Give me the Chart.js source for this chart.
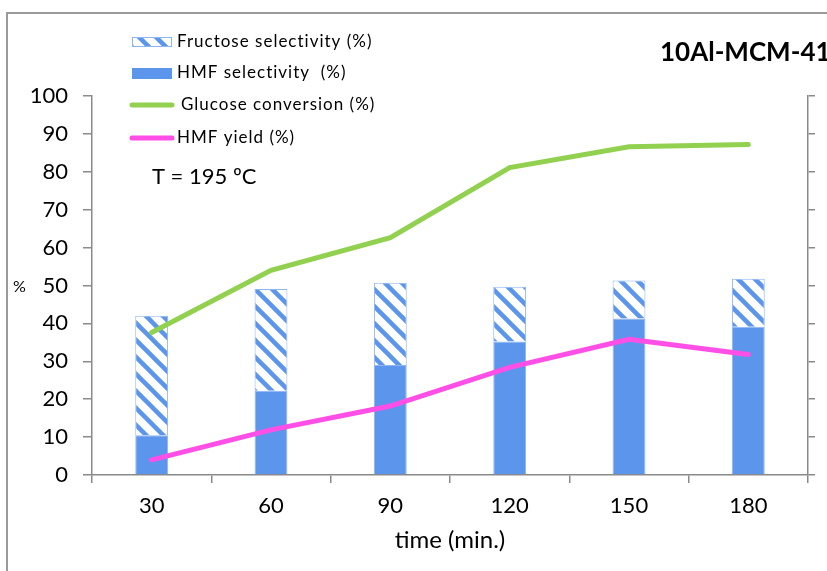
<!DOCTYPE html>
<html>
<head>
<meta charset="utf-8">
<script src="https://cdn.jsdelivr.net/npm/chart.js@4.4.1/dist/chart.umd.min.js"></script>
<style>
  html, body { margin: 0; padding: 0; background: #fff; }
  #wrap { width: 827px; height: 571px; position: relative; }
</style>
</head>
<body>
<div id="wrap"><canvas id="chart" width="827" height="571"></canvas></div>
<script>
// time points (min.)
const times = ["30", "60", "90", "120", "150", "180"];
const hmfSelectivity = [10.5, 22.2, 29.0, 35.2, 41.3, 39.1];
const fructoseSelectivity = [31.5, 26.9, 21.7, 14.5, 10.0, 12.7];
const glucoseConversion = [37.6, 54.0, 62.6, 81.1, 86.6, 87.2];
const hmfYield = [4.0, 11.9, 18.2, 28.4, 35.8, 31.8];
const yTicks = [0, 10, 20, 30, 40, 50, 60, 70, 80, 90, 100];

const BLUE = "#5b95ec";
const BLUE_EDGE = "#8fb5f2";
const GREEN = "#92d050";
const PINK = "#ff4fe6";
const AXIS = "#8a8a8a";
const FONT = "Lato, 'Open Sans', sans-serif";

// diagonal hatch for the fructose part of the bars
function makeHatch() {
  const s = 17;
  const c = document.createElement("canvas");
  c.width = s; c.height = s;
  const g = c.getContext("2d");
  g.fillStyle = "#fff";
  g.fillRect(0, 0, s, s);
  g.strokeStyle = BLUE;
  g.lineWidth = 4.5;
  for (let k = -1; k <= 1; k++) {
    g.beginPath();
    g.moveTo(k * s - 2, -2);
    g.lineTo(k * s + s + 2, s + 2);
    g.stroke();
  }
  return c.getContext("2d").createPattern(c, "repeat");
}
const hatch = makeHatch();

// frame, legend and annotations
const decor = {
  id: "decor",
  beforeDraw(chart) {
    const ctx = chart.ctx;
    ctx.save();
    ctx.fillStyle = "#fff";
    ctx.fillRect(0, 0, chart.width, chart.height);
    ctx.strokeStyle = "#9a9a9a";
    ctx.lineWidth = 2;
    ctx.beginPath();
    ctx.moveTo(7, chart.height + 2);
    ctx.lineTo(7, 13);
    ctx.lineTo(chart.width + 2, 13);
    ctx.stroke();
    ctx.restore();
  },
  afterDraw(chart) {
    const ctx = chart.ctx;
    ctx.save();
    ctx.textBaseline = "middle";

    // legend
    ctx.fillStyle = hatch;
    ctx.fillRect(132, 37, 40, 10);
    ctx.strokeStyle = BLUE_EDGE;
    ctx.lineWidth = 1;
    ctx.strokeRect(132.5, 37.5, 39, 9);
    ctx.fillStyle = BLUE;
    ctx.fillRect(132, 68, 40, 11);
    ctx.lineCap = "round";
    ctx.lineWidth = 5;
    ctx.strokeStyle = GREEN;
    ctx.beginPath(); ctx.moveTo(132, 105); ctx.lineTo(172, 105); ctx.stroke();
    ctx.strokeStyle = PINK;
    ctx.beginPath(); ctx.moveTo(132, 138); ctx.lineTo(172, 138); ctx.stroke();

    ctx.fillStyle = "#000";
    ctx.font = "17px " + FONT;
    ctx.letterSpacing = "1px";
    ctx.fillText("Fructose selectivity (%)", 177, 42);
    ctx.fillText("HMF selectivity  (%)", 177, 73);
    ctx.fillText("Glucose conversion (%)", 181, 105);
    ctx.fillText("HMF yield (%)", 177, 138);
    ctx.letterSpacing = "0px";

    ctx.font = "22px " + FONT;
    ctx.fillText("T = 195 \u00baC", 152, 177);

    ctx.font = "bold 26px " + FONT;
    ctx.fillText("10Al-MCM-41", 660, 53);

    ctx.font = "16px " + FONT;
    ctx.fillText("%", 13, 287);
    ctx.restore();
  }
};

new Chart(document.getElementById("chart"), {
  data: {
    labels: times,
    datasets: [
      {
        type: "line",
        label: "Glucose conversion (%)",
        data: glucoseConversion,
        yAxisID: "y2",
        borderColor: GREEN,
        borderWidth: 5,
        borderCapStyle: "round",
        pointRadius: 0,
        tension: 0,
        order: 0
      },
      {
        type: "line",
        label: "HMF yield (%)",
        data: hmfYield,
        yAxisID: "y2",
        borderColor: PINK,
        borderWidth: 5,
        borderCapStyle: "round",
        pointRadius: 0,
        tension: 0,
        order: 0
      },
      {
        type: "bar",
        label: "HMF selectivity  (%)",
        data: hmfSelectivity,
        backgroundColor: BLUE,
        borderColor: BLUE_EDGE,
        borderWidth: 1,
        stack: "sel",
        order: 1
      },
      {
        type: "bar",
        label: "Fructose selectivity (%)",
        data: fructoseSelectivity,
        backgroundColor: hatch,
        borderColor: BLUE_EDGE,
        borderWidth: 1,
        stack: "sel",
        order: 1
      }
    ]
  },
  options: {
    responsive: false,
    animation: false,
    layout: { padding: { top: 96, left: 0, right: 0, bottom: 0 } },
    datasets: { bar: { barPercentage: 0.275, categoryPercentage: 1 } },
    plugins: {
      legend: { display: false },
      tooltip: { enabled: false }
    },
    scales: {
      x: {
        offset: true,
        grid: { offset: true, drawOnChartArea: false, tickLength: 8, color: AXIS, lineWidth: 1.5 },
        border: { color: AXIS, width: 1.5 },
        ticks: { color: "#000", font: { family: FONT, size: 22 }, padding: 10 },
        title: {
          display: true,
          text: "time (min.)",
          color: "#000",
          font: { family: FONT, size: 24 },
          padding: { top: 4, bottom: 16 }
        },
        afterFit: s => { s.height = 96; }
      },
      y: {
        stacked: true,
        min: 0,
        max: 100,
        afterBuildTicks: s => { s.ticks = yTicks.map(v => ({ value: v })); },
        grid: { drawOnChartArea: false, tickLength: 9, color: AXIS, lineWidth: 1.5 },
        border: { color: AXIS, width: 1.5 },
        ticks: { color: "#000", font: { family: FONT, size: 22 }, padding: 15 },
        afterFit: s => { s.width = 92; }
      },
      y2: {
        position: "right",
        min: 0,
        max: 100,
        afterBuildTicks: s => { s.ticks = yTicks.map(v => ({ value: v })); },
        grid: { drawOnChartArea: false, tickLength: 7, color: AXIS, lineWidth: 1.5 },
        border: { color: AXIS, width: 1.5 },
        ticks: { display: false },
        afterFit: s => { s.width = 19; }
      }
    }
  },
  plugins: [decor]
});
</script>
</body>
</html>
